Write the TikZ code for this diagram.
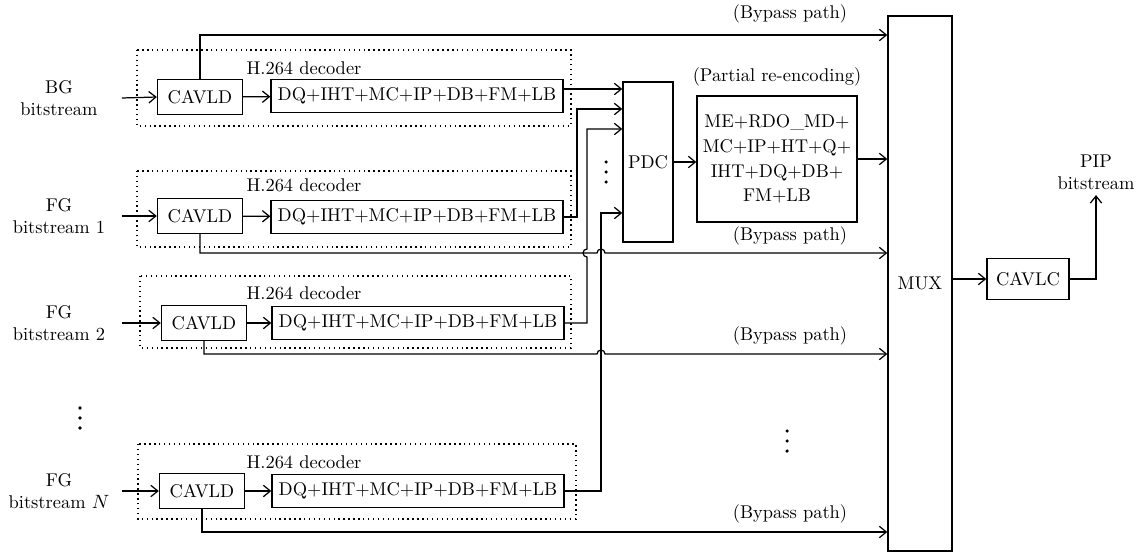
\documentclass[tikz,border=0pt]{standalone}
\usepackage{tikz}
\usetikzlibrary{arrows.meta, positioning, calc}
\tikzset{
  blk/.style={rectangle, draw, line width=0.8pt, align=center, inner sep=2pt},
  cav/.style={blk, minimum width=1.7cm, minimum height=0.7cm},
  dq/.style={blk, minimum width=5.84cm, minimum height=0.66cm},
  decbox/.style={draw, line width=0.8pt, dash pattern=on 0.8pt off 2pt},
  lab/.style={inner sep=0pt, align=center},
  inlab/.style={lab, text width=2.5cm},
  arr/.style={->, >={Straight Barb[length=4pt, width=6.5pt]}, line width=0.7pt},
  dot/.style={circle, fill, inner sep=0pt, minimum size=2pt},
}

\begin{document}
\begin{tikzpicture}[x=0.02cm, y=-0.02cm, font=\fontsize{10.5}{12.6}\selectfont]
  \useasboundingbox (0,0) rectangle (1142,554);
  % decoders
  \draw[decbox] (137,50) rectangle (571,126);
  \draw[decbox] (137,171) rectangle (571,247);
  \draw[decbox] (140,276) rectangle (571,348);
  \draw[decbox] (138,444) rectangle (576,519);
  \node[inlab] (in1) at (59,98) {BG\\bitstream};
  \node[inlab] (in2) at (59,216) {FG\\bitstream 1};
  \node[inlab] (in3) at (59,323) {FG\\bitstream 2};
  \node[inlab] (in4) at (59,491) {FG\\bitstream $N$};
  \node[cav] (cav1) at (200,97) {CAVLD};
  \node[cav] (cav2) at (200,216) {CAVLD};
  \node[cav] (cav3) at (204,323) {CAVLD};
  \node[cav] (cav4) at (202,491) {CAVLD};
  \node[dq] (dq1) at (417,96) {DQ+IHT+MC+IP+DB+FM+LB};
  \node[dq] (dq2) at (417,217) {DQ+IHT+MC+IP+DB+FM+LB};
  \node[dq] (dq3) at (418,323) {DQ+IHT+MC+IP+DB+FM+LB};
  \node[dq] (dq4) at (418,491) {DQ+IHT+MC+IP+DB+FM+LB};
  \node[lab] (dec1) at (304,68) {H.264 decoder};
  \node[lab] (dec2) at (304,185) {H.264 decoder};
  \node[lab] (dec3) at (304,293) {H.264 decoder};
  \node[lab] (dec4) at (304,462) {H.264 decoder};
  % vertical dots
  \foreach \d in {0,1,2} {
    \node[dot] at (80,408+10*\d) {};
    \node[dot] at (606,162+10*\d) {};
    \node[dot] at (787,431+10*\d) {};
  }
  % re-encoding part
  \node[blk, minimum width=1cm, minimum height=3.2cm] (pdc) at (648,162) {PDC};
  \node[blk, minimum width=3.2cm, minimum height=2.52cm, font=\fontsize{10.5}{14}\selectfont] (enc) at (777,159)
    {ME+RDO\_MD+\\MC+IP+HT+Q+\\IHT+DQ+DB+\\FM+LB};
  \node[lab, above=0.18cm of enc] (enclab) {(Partial re-encoding)};
  \node[blk, minimum width=1.28cm, minimum height=10.7cm] (mux) at (920,283.5) {MUX};
  \node[blk, minimum width=1.64cm, minimum height=0.82cm] (cavlc) at (1028,279) {CAVLC};
  \node[lab, inner sep=3pt] (pip) at (1096,172) {PIP\\bitstream};
  \node[lab] (byl1) at (790,14) {(Bypass path)};
  \node[lab] (byl2) at (790,236) {(Bypass path)};
  \node[lab] (byl3) at (790,336) {(Bypass path)};
  \node[lab] (byl4) at (790,514) {(Bypass path)};
  % routing points
  \coordinate (k2) at (577,0);
  \coordinate (k3) at (587,0);
  \coordinate (k4) at (601,0);
  \coordinate (p1) at (0,89);
  \coordinate (p2) at (0,109);
  \coordinate (p3) at (0,129);
  \coordinate (p4) at (0,213);
  \coordinate (by1) at (0,35);
  \coordinate (by2) at (0,253);
  \coordinate (by3) at (0,354);
  \coordinate (by4) at (0,532);
  % connectors
  \draw[arr] (in1.east) -- (cav1.west);
  \draw[arr] (in2.east) -- (cav2.west);
  \draw[arr] (in3.east) -- (cav3.west);
  \draw[arr] (in4.east) -- (cav4.west);
  \draw[arr] (cav1) -- (dq1);
  \draw[arr] (cav2) -- (dq2);
  \draw[arr] (cav3) -- (dq3);
  \draw[arr] (cav4) -- (dq4);
  \draw[arr] (dq1.east |- p1) -- (pdc.west |- p1);
  \draw[arr] (dq2.east) -- (k2 |- dq2.east) |- (pdc.west |- p2);
  \draw[arr] (dq3.east) -- (k3 |- dq3.east) -- ($(k3 |- by2)+(0,4)$)
    arc[start angle=270, end angle=90, radius=0.08cm] |- (pdc.west |- p3);
  \draw[arr] (dq4.east) -- (k4 |- dq4.east) |- (pdc.west |- p4);
  \draw[arr] (pdc.east) -- (pdc.east -| enc.west);
  \draw[arr] (enc.east) -- (enc.east -| mux.west);
  \draw[arr] (cav1.north) |- (mux.west |- by1);
  \draw[arr] (cav2.south) |- ($(k4 |- by2)+(-4,0)$)
    arc[start angle=180, end angle=0, radius=0.08cm] -- (mux.west |- by2);
  \draw[arr] (cav3.south) |- ($(k4 |- by3)+(-4,0)$)
    arc[start angle=180, end angle=0, radius=0.08cm] -- (mux.west |- by3);
  \draw[arr] (cav4.south) |- (mux.west |- by4);
  \draw[arr] (mux.east |- cavlc) -- (cavlc.west);
  \draw[arr] (cavlc.east) -| (pip.south);
\end{tikzpicture}
\end{document}
